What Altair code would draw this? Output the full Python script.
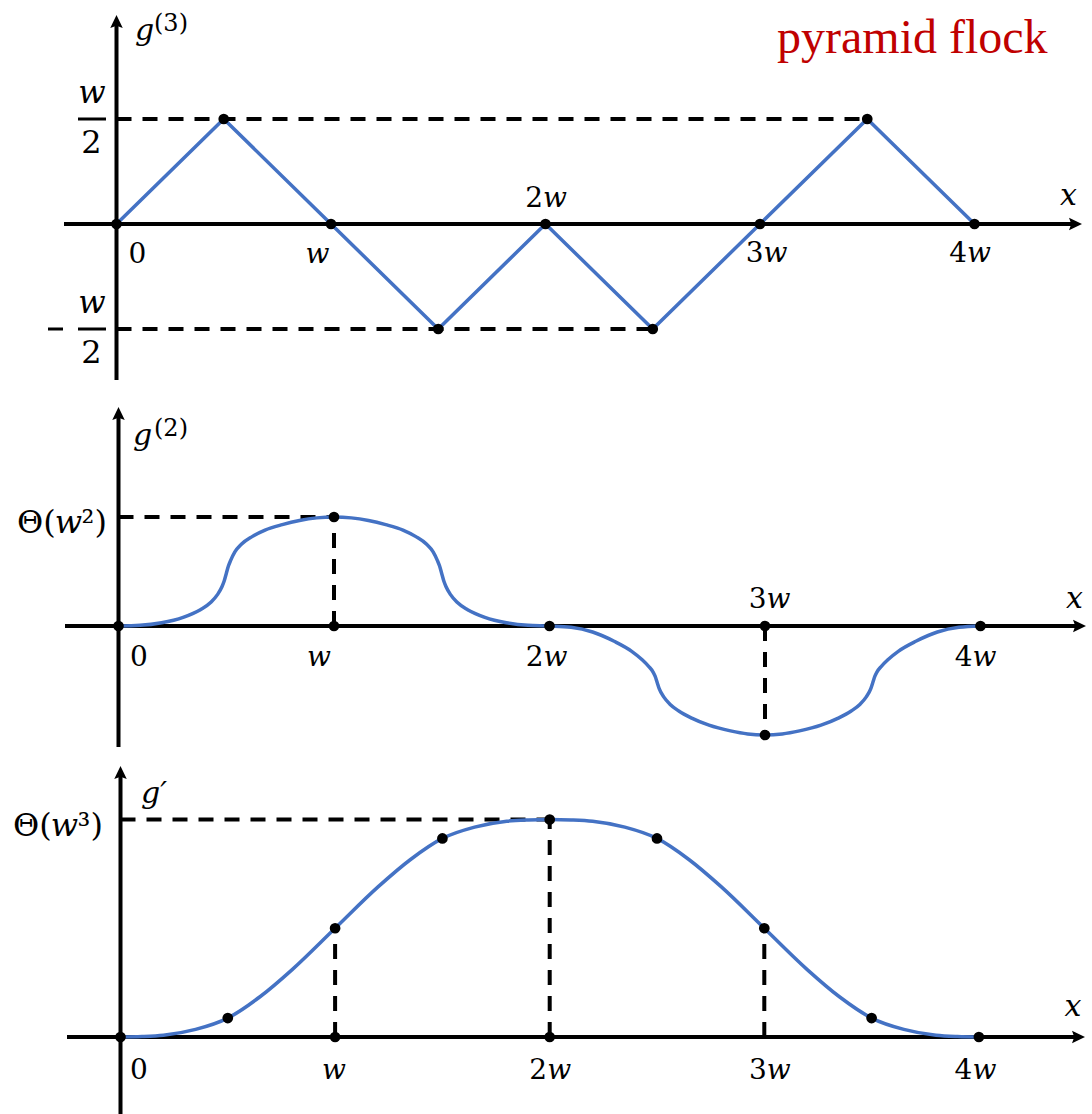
import altair as alt
import pandas as pd

# ---- values; x is measured in units of w ----
KNOTS = [0, 0.5, 1, 1.5, 2, 2.5, 3, 3.5, 4]
G3_VALUES = [0, 0.5, 0, -0.5, 0, -0.5, 0, 0.5, 0]          # g''' in units of w

# g'' sampled along x, scaled so that Θ(w²) = 1
G2_X = [0, 0.1, 0.2, 0.3, 0.38, 0.43, 0.46, 0.48, 0.49, 0.5, 0.51, 0.52, 0.54, 0.57, 0.62, 0.68, 0.76, 0.84, 0.92, 1.0,
        1.08, 1.16, 1.24, 1.32, 1.38, 1.43, 1.46, 1.48, 1.49, 1.5, 1.51, 1.52, 1.54, 1.57, 1.62, 1.7, 1.8, 1.9, 2.0,
        2.1, 2.2, 2.3, 2.38, 2.43, 2.46, 2.48, 2.49, 2.5, 2.51, 2.53, 2.56, 2.6, 2.66, 2.74, 2.84, 2.92, 3.0,
        3.08, 3.16, 3.26, 3.34, 3.4, 3.44, 3.47, 3.49, 3.5, 3.51, 3.52, 3.54, 3.57, 3.62, 3.7, 3.8, 3.9, 4.0]
G2_VALUES = [0, 0.006, 0.03, 0.08, 0.15, 0.22, 0.29, 0.36, 0.41, 0.48, 0.55, 0.6, 0.68, 0.75, 0.82, 0.88, 0.93, 0.968, 0.992, 1.0,
             0.992, 0.968, 0.93, 0.88, 0.82, 0.75, 0.68, 0.6, 0.55, 0.48, 0.41, 0.36, 0.29, 0.22, 0.15, 0.08, 0.03, 0.006, 0,
             -0.012, -0.055, -0.14, -0.23, -0.31, -0.37, -0.42, -0.46, -0.52, -0.58, -0.65, -0.72, -0.78, -0.845, -0.91, -0.962, -0.99, -1.0,
             -0.99, -0.962, -0.91, -0.845, -0.78, -0.72, -0.65, -0.58, -0.52, -0.46, -0.42, -0.37, -0.31, -0.23, -0.14, -0.055, -0.012, 0]

# g' sampled along x, scaled so that Θ(w³) = 1
G1_X = [0, 0.1, 0.2, 0.35, 0.5, 0.65, 0.8, 1.0, 1.2, 1.35, 1.5, 1.65, 1.8, 1.9, 2.0,
        2.1, 2.2, 2.35, 2.5, 2.65, 2.8, 3.0, 3.2, 3.35, 3.5, 3.65, 3.8, 3.9, 4.0]
G1_VALUES = [0, 0.002, 0.008, 0.035, 0.087, 0.185, 0.31, 0.5, 0.69, 0.815, 0.913, 0.965, 0.992, 0.998, 1.0,
             0.998, 0.992, 0.965, 0.913, 0.815, 0.69, 0.5, 0.31, 0.185, 0.087, 0.035, 0.008, 0.002, 0]

TICK_POS = [0, 1, 2, 3, 4]
TICK_TEXT = ["0", "w", "2w", "3w", "4w"]
TITLE = "pyramid flock"

W = 1092
FONT = "DejaVu Serif"
BLUE = "#4472C4"
RED = "#C00000"
DASH = [15, 11]
ONE = pd.DataFrame({"d": [0]})
UP_ARROW = "M0,0L1.25,2.6L0,2.15L-1.25,2.6Z"
RIGHT_ARROW = "M0,0L-2.6,-1.25L-2.15,0L-2.6,1.25Z"


class Panel:
    def __init__(self, x0, step, y0, unit, height):
        self.x0, self.step, self.y0, self.unit, self.height = x0, step, y0, unit, height
        self.layers = []
        self.xs = alt.Scale(domain=[-x0 / step, (W - x0) / step], nice=False, zero=False)
        self.ys = alt.Scale(domain=[(y0 - height) / unit, y0 / unit], nice=False, zero=False)

    def X(self, f="x"):
        return alt.X(f"{f}:Q", scale=self.xs, axis=None)

    def Y(self, f="y"):
        return alt.Y(f"{f}:Q", scale=self.ys, axis=None)

    def ypx(self, v):
        return self.y0 - v * self.unit

    def axes(self, y_bottom, y_tip, x_left, x_tip):
        ax, ay = self.x0, self.y0
        self.layers.append(alt.Chart(ONE).mark_rule(color="black", strokeWidth=4).encode(
            x=alt.value(ax), y=alt.value(y_tip + 9), y2=alt.value(y_bottom)))
        self.layers.append(alt.Chart(ONE).mark_rule(color="black", strokeWidth=4).encode(
            x=alt.value(x_left), x2=alt.value(x_tip - 9), y=alt.value(ay)))
        self.layers.append(alt.Chart(ONE).mark_point(
            shape=UP_ARROW, filled=True, size=100, color="black", opacity=1, strokeWidth=0
        ).encode(x=alt.value(ax), y=alt.value(y_tip)))
        self.layers.append(alt.Chart(ONE).mark_point(
            shape=RIGHT_ARROW, filled=True, size=100, color="black", opacity=1, strokeWidth=0
        ).encode(x=alt.value(x_tip), y=alt.value(ay)))

    def guides(self, rows):
        df = pd.DataFrame(rows, columns=["x", "x2", "y", "y2"])
        self.layers.append(alt.Chart(df).mark_rule(
            color="black", strokeWidth=4, strokeDash=DASH
        ).encode(x=self.X("x"), x2=alt.X2("x2:Q"), y=self.Y("y"), y2=alt.Y2("y2:Q")))

    def curve(self, xs, ys, interp):
        df = pd.DataFrame({"x": xs, "y": ys})
        self.layers.append(alt.Chart(df).mark_line(
            color=BLUE, strokeWidth=3.5, interpolate=interp
        ).encode(x=self.X(), y=self.Y()))

    def dots(self, xs, ys):
        df = pd.DataFrame({"x": xs, "y": ys})
        self.layers.append(alt.Chart(df).mark_circle(
            size=115, color="black", opacity=1
        ).encode(x=self.X(), y=self.Y()))

    def text_at(self, x, y, s, dx=0, dy=0, size=28, italic=False, align="center",
                font=FONT, color="black"):
        df = pd.DataFrame({"x": [x], "y": [y], "t": [s]})
        kw = dict(font=font, fontSize=size, align=align, baseline="alphabetic",
                  dx=dx, dy=dy, color=color)
        if italic:
            kw["fontStyle"] = "italic"
        self.layers.append(alt.Chart(df).mark_text(**kw).encode(
            x=self.X(), y=self.Y(), text="t:N"))

    def text_px(self, px, py, s, size=28, italic=False, align="left", font=FONT, color="black"):
        kw = dict(font=font, fontSize=size, align=align, baseline="alphabetic",
                  color=color, text=s)
        if italic:
            kw["fontStyle"] = "italic"
        self.layers.append(alt.Chart(ONE).mark_text(**kw).encode(
            x=alt.value(px), y=alt.value(py)))

    def hbar(self, x1, x2, py, width=3):
        self.layers.append(alt.Chart(ONE).mark_rule(color="black", strokeWidth=width).encode(
            x=alt.value(x1), x2=alt.value(x2), y=alt.value(py)))

    def tick_labels(self, offsets):
        for xv, label, (dx, dy) in zip(TICK_POS, TICK_TEXT, offsets):
            if label == "0":
                self.text_at(xv, 0, "0", dx=dx, dy=dy, align="left")
            elif label == "w":
                self.text_at(xv, 0, "w", dx=dx, dy=dy, italic=True)
            else:
                self.text_at(xv, 0, label[:-1], dx=dx - 2.5, dy=dy, align="right")
                self.text_at(xv, 0, "w", dx=dx - 2.5, dy=dy, italic=True, align="left")

    def theta_label(self, level, sup, left_px, dy):
        base = self.ypx(level) + dy
        self.text_px(left_px, base, "Θ(", size=32)
        self.text_px(left_px + 37.7, base, "w", size=32, italic=True)
        self.text_px(left_px + 64.6, base, sup + ")", size=32)

    def chart(self):
        return alt.layer(*self.layers).properties(width=W, height=self.height)


def value_at(xs, ys, x):
    return ys[xs.index(x)]


# ---------------- g''' : triangle wave ----------------
p1 = Panel(x0=116.5, step=214.5, y0=224, unit=210, height=390)
p1.axes(y_bottom=380, y_tip=15, x_left=64, x_tip=1082)
hi = max(G3_VALUES)
lo = min(G3_VALUES)
p1.guides([
    [0, max(k for k, v in zip(KNOTS, G3_VALUES) if v == hi), hi, hi],
    [0, max(k for k, v in zip(KNOTS, G3_VALUES) if v == lo), lo, lo],
])
p1.curve(KNOTS, G3_VALUES, "linear")
p1.dots(KNOTS, G3_VALUES)
p1.tick_labels([(12, 39), (-13.5, 39), (0, -17), (6, 38), (-5, 38)])
for level in (hi, lo):
    p1.text_at(0, level, "w", dx=-24.5, dy=-16, size=32, italic=True)
    p1.text_at(0, level, "2", dx=-25, dy=34, size=32)
    p1.hbar(78, 106, p1.ypx(level))
    if level < 0:
        p1.hbar(48, 63, p1.ypx(level))
p1.text_px(1068.5, 205, "x", size=30, italic=True, align="center")
p1.text_px(135, 40, "g", size=30, italic=True)
p1.text_px(154, 31, "(3)", size=24)
p1.text_px(777, 53, TITLE, size=48, font="Liberation Serif", color=RED)

# ---------------- g'' ----------------
p2 = Panel(x0=118.5, step=215.5, y0=236, unit=109, height=370)
p2.axes(y_bottom=357, y_tip=17, x_left=65, x_tip=1086)
g2_max = max(G2_VALUES)
g2_min = min(G2_VALUES)
x_max = G2_X[G2_VALUES.index(g2_max)]
x_min = G2_X[G2_VALUES.index(g2_min)]
p2.guides([
    [0, x_max, g2_max, g2_max],
    [x_max, x_max, 0, g2_max],
    [x_min, x_min, 0, g2_min],
])
p2.curve(G2_X, G2_VALUES, "monotone")
p2.dots(TICK_POS + [x_max, x_min], [value_at(G2_X, G2_VALUES, x) for x in TICK_POS] + [0, 0])
p2.tick_labels([(11.5, 40), (-15, 40), (-3.5, 40), (4, -18), (-5.5, 40)])
p2.theta_label(g2_max, "²", 17, 16)
p2.text_px(1074.5, 218, "x", size=30, italic=True, align="center")
p2.text_px(133, 55, "g", size=30, italic=True)
p2.text_px(154, 46, "(2)", size=24)

# ---------------- g' ----------------
p3 = Panel(x0=120.5, step=214.6, y0=277, unit=217.5, height=354)
p3.axes(y_bottom=354, y_tip=6, x_left=67, x_tip=1085)
g1_max = max(G1_VALUES)
x_top = G1_X[G1_VALUES.index(g1_max)]
p3.guides([[0, x_top, g1_max, g1_max]] +
          [[x, x, 0, value_at(G1_X, G1_VALUES, x)] for x in (1, 2, 3)])
p3.curve(G1_X, G1_VALUES, "monotone")
p3.dots(KNOTS + [1, 2], [value_at(G1_X, G1_VALUES, x) for x in KNOTS] + [0, 0])
p3.tick_labels([(9.5, 42), (-1, 42), (0, 42), (5, 42), (-4, 42)])
p3.theta_label(g1_max, "³", 13, 16)
p3.text_px(1073, 256, "x", size=30, italic=True, align="center")
p3.text_px(141, 43, "g′", size=30, italic=True)

chart = alt.vconcat(p1.chart(), p2.chart(), p3.chart(), spacing=0).resolve_scale(
    x="independent", y="independent"
).properties(padding=0, background="white").configure_view(strokeWidth=0)

chart.save("out.html", embed_options={"renderer": "svg", "actions": False})
